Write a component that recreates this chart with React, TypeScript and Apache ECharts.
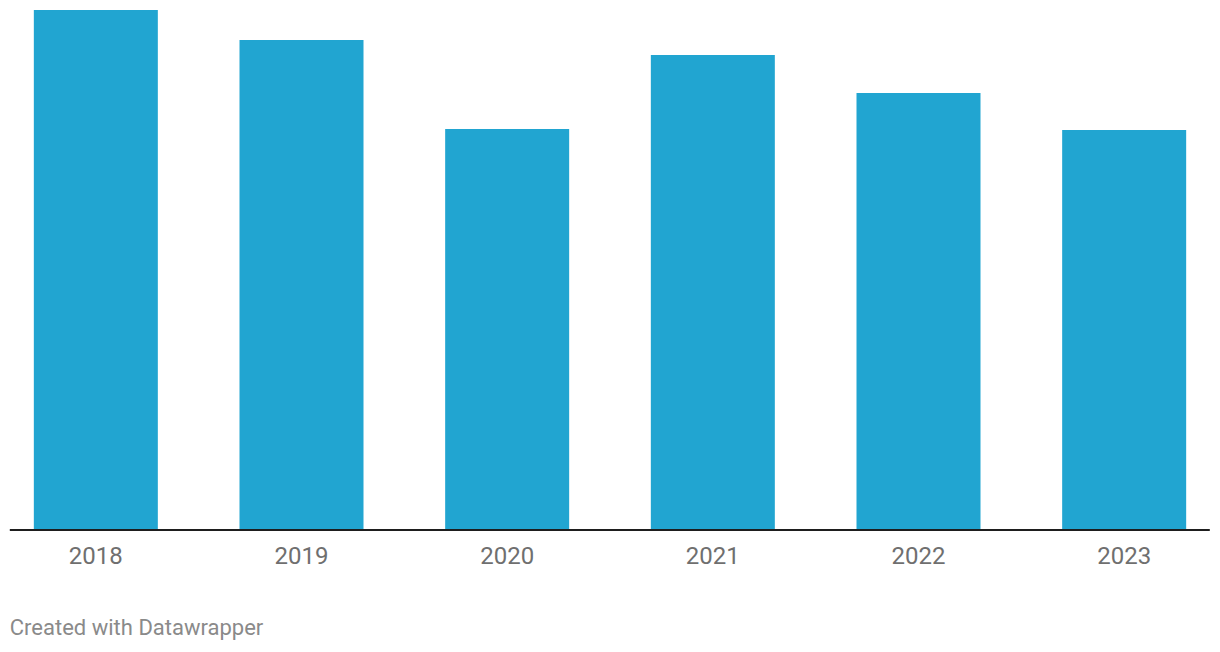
import React, { useEffect, useRef } from "react";
import * as echarts from "echarts";

const categories = ["2018", "2019", "2020", "2021", "2022", "2023"];
const values = [51.9, 48.9, 40.0, 47.4, 43.6, 39.9];
const footerText = "Created with Datawrapper";

const SHIFT = 6.8;

export default function App() {
  const ref = useRef<HTMLDivElement>(null);
  useEffect(() => {
    if (!ref.current) return;
    const chart = echarts.init(ref.current, undefined, { renderer: "svg" });
    chart.setOption({
      animation: false,
      grid: { left: 0, right: 0, top: 10, bottom: 123, containLabel: false },
      xAxis: {
        type: "category",
        data: categories,
        axisLine: { show: false },
        axisTick: { show: false },
        axisLabel: {
          color: "#6f6f6f",
          fontSize: 24,
          fontFamily: "Roboto",
          margin: 15,
        },
      },
      yAxis: {
        type: "value",
        min: 0,
        max: 51.9,
        show: false,
        splitLine: { show: false },
      },
      series: [
        {
          type: "bar",
          data: values,
          barWidth: 124,
          itemStyle: { color: "#21a5d1" },
        },
      ],
      graphic: [
        {
          type: "line",
          shape: { x1: 10 + SHIFT, y1: 530, x2: 1210 + SHIFT, y2: 530 },
          style: { stroke: "#1e1e1e", lineWidth: 2 },
          z: 10,
        },
        {
          type: "text",
          left: 10 + SHIFT,
          top: 616,
          style: {
            text: footerText,
            fill: "#8a8a8a",
            fontSize: 22,
            fontFamily: "Roboto",
          },
        },
      ],
    });
    return () => chart.dispose();
  }, []);
  return (
    <div
      ref={ref}
      style={{ position: "absolute", left: -SHIFT, top: 0, width: 1233.6, height: 652 }}
    />
  );
}
